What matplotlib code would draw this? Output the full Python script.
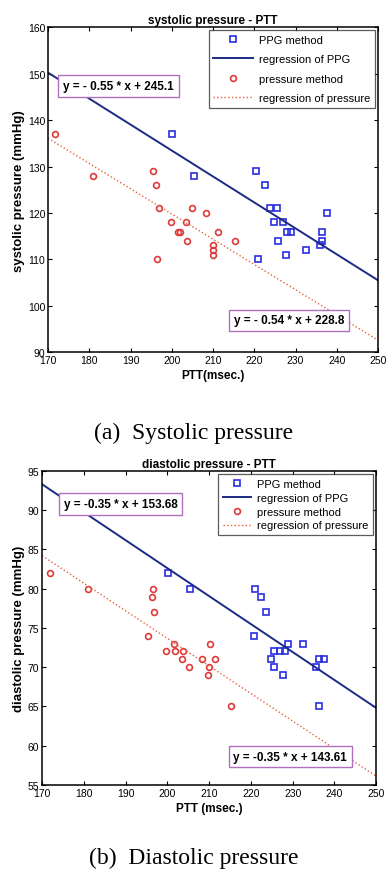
import numpy as np
import matplotlib
matplotlib.use('Agg')
import matplotlib.pyplot as plt

plt.rcParams['font.family'] = 'Liberation Sans'

# systolic data (PTT msec, pressure mmHg)
sys_ppg_x = [200.1, 205.4, 220.5, 222.5, 223.7, 225.5, 224.8, 227.0, 225.8, 227.9,
             229.0, 227.6, 232.5, 235.9, 236.5, 236.5, 237.6, 221.0]
sys_ppg_y = [137, 128, 129, 126, 121, 121, 118, 118, 114, 116,
             116, 111, 112, 113, 114, 116, 120, 110]
sys_prs_x = [171.6, 180.9, 195.5, 196.1, 196.9, 196.5, 199.8, 201.6, 202.0, 203.5,
             203.7, 204.9, 208.2, 211.2, 210.0, 210.0, 210.0, 215.3]
sys_prs_y = [137, 128, 129, 126, 121, 110, 118, 116, 116, 118,
             114, 121, 120, 116, 113, 112, 111, 114]

# diastolic data
dia_ppg_x = [200.2, 205.5, 220.9, 222.5, 223.7, 220.7, 224.8, 225.5, 225.6, 226.9,
             228.2, 227.7, 229.0, 232.5, 235.7, 236.4, 237.5, 236.4]
dia_ppg_y = [82, 80, 80, 79, 77, 74, 71, 70, 72, 72,
             72, 69, 73, 73, 70, 71, 71, 65]
dia_prs_x = [171.8, 180.9, 196.5, 196.3, 196.9, 195.4, 199.7, 201.5, 201.8, 203.8,
             203.4, 205.1, 208.2, 210.2, 209.9, 209.8, 211.3, 215.3]
dia_prs_y = [82, 80, 80, 79, 77, 74, 72, 73, 72, 72,
             71, 70, 71, 73, 70, 69, 71, 65]

# regression lines, end values read at x = 170 and x = 250
reg_x = [170, 250]
sys_reg_ppg = [150.2, 105.5]
sys_reg_prs = [136.1, 92.6]
dia_reg_ppg = [93.3, 64.8]
dia_reg_prs = [84.2, 56.1]

sys_eq = ['y = - 0.55 * x + 245.1', 'y = - 0.54 * x + 228.8']
dia_eq = ['y = -0.35 * x + 153.68', 'y = -0.35 * x + 143.61']

c_sq = '#2a2ee0'
c_reg = '#1c2a86'
c_circ = '#e03a3a'
c_dot = '#e8603c'
c_box = '#b070c0'

fig = plt.figure(figsize=(3.87, 8.79), dpi=100)


def panel(ax, ppg_x, ppg_y, prs_x, prs_y, reg_ppg, reg_prs, title, ylabel, xlabel,
          ylim, yticks, eqs, eqpos, spacing, hlen):
    ax.plot(ppg_x, ppg_y, 's', mfc='none', mec=c_sq, ms=4.2, mew=1.2, label='PPG method')
    ax.plot(reg_x, reg_ppg, '-', color=c_reg, lw=1.4, label='regression of PPG')
    ax.plot(prs_x, prs_y, 'o', mfc='none', mec=c_circ, ms=4.2, mew=1.2, label='pressure method')
    ax.plot(reg_x, reg_prs, ':', color=c_dot, lw=1.0, label='regression of pressure')
    ax.set_xlim(170, 250)
    ax.set_ylim(*ylim)
    ax.set_xticks(range(170, 251, 10))
    ax.set_yticks(yticks)
    ax.tick_params(direction='in', top=True, right=True, labelsize=7.5, length=3, pad=2)
    for s in ax.spines.values():
        s.set_linewidth(1.1)
    ax.set_title(title, fontsize=8.5, fontweight='bold', pad=3)
    ax.set_ylabel(ylabel, fontsize=9.5, fontweight='bold', labelpad=2)
    ax.set_xlabel(xlabel, fontsize=8.5, fontweight='bold', labelpad=3)
    leg = ax.legend(loc='upper right', bbox_to_anchor=(1.0, 1.0), fontsize=8,
                    labelspacing=spacing, borderaxespad=0.3, fancybox=False,
                    edgecolor='#333333', handlelength=hlen, handletextpad=0.5,
                    borderpad=0.4)
    leg.get_frame().set_linewidth(0.9)
    for t, (x, y) in zip(eqs, eqpos):
        ax.text(x, y, t, fontsize=8.5, fontweight='bold', ha='center', va='center',
                bbox=dict(boxstyle='square,pad=0.4', fc='white', ec=c_box, lw=1.0))


ax1 = fig.add_axes([0.124, 0.598, 0.853, 0.370])
panel(ax1, sys_ppg_x, sys_ppg_y, sys_prs_x, sys_prs_y, sys_reg_ppg, sys_reg_prs,
      'systolic pressure - PTT', 'systolic pressure (mmHg)', 'PTT(msec.)',
      (90, 160), range(90, 161, 10), sys_eq, [(187.1, 147.3), (228.4, 96.9)], 0.85, 3.6)

ax2 = fig.add_axes([0.109, 0.106, 0.863, 0.357])
panel(ax2, dia_ppg_x, dia_ppg_y, dia_prs_x, dia_prs_y, dia_reg_ppg, dia_reg_prs,
      'diastolic pressure - PTT', 'diastolic pressure (mmHg)', 'PTT (msec.)',
      (55, 95), range(55, 96, 5), dia_eq, [(188.8, 90.8), (229.4, 58.6)], 0.35, 2.6)

fig.text(0.5, 1 - 433 / 879, '(a)  Systolic pressure', family='Liberation Serif',
         fontsize=17, ha='center', va='center')
fig.text(0.5, 1 - 858 / 879, '(b)  Diastolic pressure', family='Liberation Serif',
         fontsize=17, ha='center', va='center')

fig.savefig('out.png', dpi=100)
